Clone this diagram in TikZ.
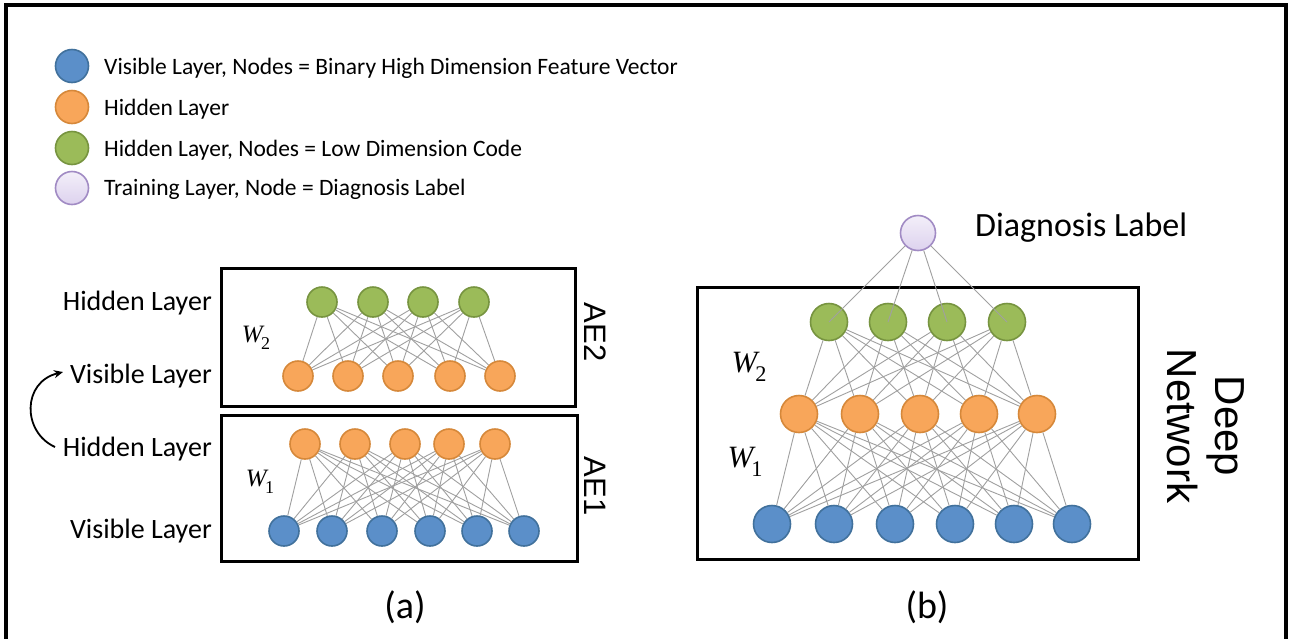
\documentclass[tikz,border=0pt]{standalone}
\usepackage{fontspec}
\setmainfont{Carlito}
\newfontfamily\arialf{Liberation Sans}
\newfontfamily\timesf{Liberation Serif}
\usetikzlibrary{arrows.meta}

\definecolor{visfill}{HTML}{5B8FC9}
\definecolor{visline}{HTML}{41719C}
\definecolor{hidfill}{HTML}{F8A65A}
\definecolor{hidline}{HTML}{D6883A}
\definecolor{codefill}{HTML}{9BBB59}
\definecolor{codeline}{HTML}{779440}
\definecolor{lbltop}{HTML}{F3EFF9}
\definecolor{lblbot}{HTML}{DDD2EE}
\definecolor{lblline}{HTML}{A18BC4}
\definecolor{wirecol}{HTML}{A0A0A0}

\tikzset{
  unit/.style={circle, inner sep=0pt, line width=1.6pt},
  small/.style={minimum size=30pt},
  big/.style={minimum size=37pt},
  legendsz/.style={minimum size=33pt},
  vis/.style={unit, fill=visfill, draw=visline},
  hid/.style={unit, fill=hidfill, draw=hidline},
  code/.style={unit, fill=codefill, draw=codeline},
  lbl/.style={unit, top color=lbltop, bottom color=lblbot, draw=lblline},
  frame/.style={draw=black, line width=3pt},
  wire/.style={draw=wirecol, line width=0.9pt},
  legendtxt/.style={anchor=base west, inner sep=0pt, font=\fontsize{23.5}{27}\selectfont},
  sidetxt/.style={anchor=base east, inner sep=0pt, font=\fontsize{28}{32}\selectfont},
  aetxt/.style={rotate=-90, inner sep=0pt, font=\arialf\fontsize{31}{34}\selectfont},
  captxt/.style={anchor=base, inner sep=0pt, font=\fontsize{38}{42}\selectfont},
  wsmall/.style={inner sep=0pt, font=\timesf\fontsize{25}{28}\selectfont},
  wbig/.style={inner sep=0pt, font=\timesf\fontsize{31}{34}\selectfont},
}

% italic W with a tight upright subscript
\newcommand{\wlabel}[1]{\textit{W}\kern-0.14em\raisebox{-0.3em}{\scalebox{0.72}{#1}}}

\begin{document}
\begin{tikzpicture}[x=1pt, y=-1pt]
  \useasboundingbox (0,0) rectangle (1291,638);
  \fill[white] (0,0) rectangle (1291,638);
  \begin{scope}
    \clip (0,0) rectangle (1291,638);
    \draw[line width=4pt] (6,5) rectangle (1286,660);
  \end{scope}

  % legend
  \node[vis, legendsz] (lv) at (72,66) {};
  \node[hid, legendsz] (lh) at (72,107) {};
  \node[code, legendsz] (lc) at (72,148) {};
  \node[lbl, legendsz] (ll) at (72,188) {};
  \node[legendtxt] (tv) at (104,74) {Visible Layer, Nodes = Binary High Dimension Feature Vector};
  \node[legendtxt] (th) at (104,115) {Hidden Layer};
  \node[legendtxt] (tc) at (104,156) {Hidden Layer, Nodes = Low Dimension Code};
  \node[legendtxt] (tl) at (104,195) {Training Layer, Node = Diagnosis Label};

  % (a) stacked autoencoders
  \draw[frame] (221,268) rectangle (575,406);
  \draw[frame] (221,415) rectangle (577,561);
  \node[aetxt] (ae2) at (595,332) {AE2};
  \node[aetxt] (ae1) at (595,486) {AE1};

  \node[sidetxt] (s1) at (212,310) {Hidden Layer};
  \node[sidetxt] (s2) at (212,383) {Visible Layer};
  \node[sidetxt] (s3) at (212,456) {Hidden Layer};
  \node[sidetxt] (s4) at (212,538) {Visible Layer};
  \coordinate (arrS) at (55,447);
  \coordinate (arrE) at (63,372);
  \draw[line width=1.8pt, -{Stealth[length=9pt, width=8pt]}]
    (arrS) .. controls (22,432) and (22,382) .. (arrE);

  \foreach \x [count=\i] in {322,373,423,474} \node[code, small] (ag\i) at (\x,302) {};
  \foreach \x [count=\i] in {298,348,398,450,500} \node[hid, small] (ao\i) at (\x,376) {};
  \foreach \x [count=\i] in {305,355,405,449,495} \node[hid, small] (ah\i) at (\x,444) {};
  \foreach \x [count=\i] in {284,332,382,430,477,524} \node[vis, small] (ab\i) at (\x,531) {};

  \foreach \i in {1,...,4} \foreach \j in {1,...,5} \draw[wire] (ag\i) -- (ao\j);
  \foreach \i in {1,...,5} \foreach \j in {1,...,6} \draw[wire] (ah\i) -- (ab\j);

  \node[wsmall] (w2a) at (256,338) {\wlabel{2}};
  \node[wsmall] (w1a) at (260,482) {\wlabel{1}};
  \node[captxt] (capa) at (405,618) {(a)};

  % (b) deep network
  \draw[frame] (697,287) rectangle (1138,559);
  \node[aetxt, font=\arialf\fontsize{42}{48}\selectfont, align=center] (deep) at (1206,426) {Deep\\Network};

  \node[lbl, minimum size=35pt] (dl) at (918,233) {};
  \node[anchor=base west, inner sep=0pt, font=\fontsize{34}{38}\selectfont] (dlt) at (975,236) {Diagnosis Label};
  \foreach \x [count=\i] in {829,888,947,1007} \node[code, big] (dg\i) at (\x,322) {};
  \foreach \x [count=\i] in {799,860,920,979,1037} \node[hid, big] (do\i) at (\x,414) {};
  \foreach \x [count=\i] in {772,834,895,955,1014,1072} \node[vis, big] (db\i) at (\x,524) {};

  \foreach \i in {1,...,4} \foreach \j in {1,...,5} \draw[wire] (dg\i) -- (do\j);
  \foreach \i in {1,...,5} \foreach \j in {1,...,6} \draw[wire] (do\i) -- (db\j);
  \foreach \i in {1,...,4} \draw[wire] (dl) -- (dg\i.center);

  \node[wbig] (w2b) at (749,367) {\wlabel{2}};
  \node[wbig] (w1b) at (745,462) {\wlabel{1}};
  \node[captxt] (capb) at (927,618) {(b)};
\end{tikzpicture}
\end{document}
